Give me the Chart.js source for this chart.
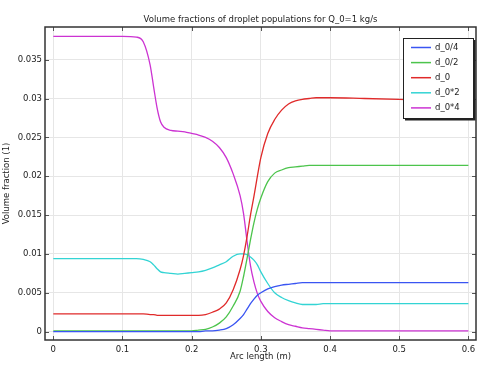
<!DOCTYPE html>
<html>
<head>
<meta charset="utf-8">
<script src="https://cdn.jsdelivr.net/npm/chart.js@4"></script>
<style>
  html, body { margin: 0; padding: 0; background: #fff; }
  #wrap { width: 482px; height: 366px; }
</style>
</head>
<body>
<div id="wrap"><canvas id="chart" width="482" height="366"></canvas></div>
<script>
// arc length samples (m)
const arcLength = [0, 0.05, 0.1, 0.12, 0.13, 0.14, 0.145, 0.15, 0.155, 0.16, 0.17, 0.18, 0.19, 0.2,
  0.21, 0.22, 0.23, 0.24, 0.25, 0.26, 0.27, 0.275, 0.28, 0.285, 0.29, 0.295, 0.3, 0.31, 0.32, 0.33,
  0.34, 0.35, 0.36, 0.37, 0.38, 0.39, 0.4, 0.45, 0.5, 0.55, 0.6];

const dQuarter = [0, 0, 0, 0, 0, 0, 0, 0, 0, 0, 0, 0, 0, 0,
  0, 0.0001, 0.0001, 0.0002, 0.0004, 0.0009, 0.0017, 0.0022, 0.0029, 0.0036, 0.0042, 0.0047, 0.0050, 0.0055, 0.0058, 0.0060,
  0.0061, 0.0062, 0.0063, 0.0063, 0.0063, 0.0063, 0.0063, 0.0063, 0.0063, 0.0063, 0.0063];

const dHalf = [0.0001, 0.0001, 0.0001, 0.0001, 0.0001, 0.0001, 0.0001, 0.0001, 0.0001, 0.0001, 0.0001, 0.0001, 0.0001, 0.0001,
  0.0002, 0.0003, 0.0006, 0.0011, 0.0019, 0.0033, 0.0052, 0.0071, 0.0094, 0.0118, 0.0140, 0.0158, 0.0172, 0.0193, 0.0204, 0.0208,
  0.0211, 0.0212, 0.0213, 0.0214, 0.0214, 0.0214, 0.0214, 0.0214, 0.0214, 0.0214, 0.0214];

const dOne = [0.0023, 0.0023, 0.0023, 0.0023, 0.0023, 0.0022, 0.0022, 0.0021, 0.0021, 0.0021, 0.0021, 0.0021, 0.0021, 0.0021,
  0.0021, 0.0022, 0.0025, 0.0029, 0.0037, 0.0054, 0.0080, 0.0098, 0.0122, 0.0150, 0.0174, 0.0200, 0.0224, 0.0255, 0.0273, 0.0285,
  0.0293, 0.0297, 0.0299, 0.0300, 0.0301, 0.0301, 0.0301, 0.0300, 0.0299, 0.0298, 0.0298];

const dDouble = [0.0094, 0.0094, 0.0094, 0.0094, 0.0093, 0.0090, 0.0086, 0.0081, 0.0077, 0.0076, 0.0075, 0.0074, 0.0075, 0.0076,
  0.0077, 0.0079, 0.0082, 0.0086, 0.0090, 0.0097, 0.0100, 0.0100, 0.0099, 0.0096, 0.0092, 0.0086, 0.0077, 0.0062, 0.0050, 0.0044,
  0.0040, 0.0037, 0.0035, 0.0035, 0.0035, 0.0036, 0.0036, 0.0036, 0.0036, 0.0036, 0.0036];

const dQuad = [0.038, 0.038, 0.038, 0.0379, 0.0373, 0.0343, 0.0315, 0.0288, 0.0270, 0.0263, 0.0259, 0.0258, 0.0257, 0.0255,
  0.0253, 0.0250, 0.0245, 0.0237, 0.0224, 0.0203, 0.0175, 0.0152, 0.0117, 0.0085, 0.0064, 0.0049, 0.0039, 0.0026, 0.0018, 0.0013,
  0.0009, 0.0007, 0.0005, 0.0004, 0.0003, 0.0002, 0.0001, 0.0001, 0.0001, 0.0001, 0.0001];

const seriesNames = ['d_0/4', 'd_0/2', 'd_0', 'd_0*2', 'd_0*4'];
const seriesColors = ['#3a55f2', '#4cc44c', '#e02a2a', '#33d4d4', '#cc33d2'];

const xTicks = [0, 0.1, 0.2, 0.3, 0.4, 0.5, 0.6];
const yTicks = [0, 0.005, 0.01, 0.015, 0.02, 0.025, 0.03, 0.035];

const FONT = "'DejaVu Sans', sans-serif";

const toPoints = (ys) => ys.map((y, i) => ({ x: arcLength[i], y }));

// frame + inner ticks on all four sides
const framePlugin = {
  id: 'frame',
  afterDatasetsDraw(chart) {
    const { ctx, chartArea: a, scales } = chart;
    ctx.save();
    ctx.strokeStyle = '#555';
    ctx.lineWidth = 1;
    ctx.beginPath();
    xTicks.forEach(v => {
      const px = Math.round(scales.x.getPixelForValue(v)) + 0.5;
      ctx.moveTo(px, a.top); ctx.lineTo(px, a.top + 4);
      ctx.moveTo(px, a.bottom); ctx.lineTo(px, a.bottom - 4);
    });
    yTicks.forEach(v => {
      const py = Math.round(scales.y.getPixelForValue(v)) + 0.5;
      ctx.moveTo(a.right, py); ctx.lineTo(a.right - 4, py);
      ctx.moveTo(a.left, py); ctx.lineTo(a.left + 4, py);
    });
    ctx.stroke();
    ctx.strokeStyle = '#333';
    ctx.lineWidth = 1.5;
    ctx.strokeRect(a.left, a.top, a.right - a.left, a.bottom - a.top);
    ctx.restore();
  }
};

// legend box in upper right corner
const legendPlugin = {
  id: 'boxLegend',
  afterDraw(chart) {
    const { ctx } = chart;
    const x0 = 403, y0 = 38, w = 70, h = 80;
    ctx.save();
    ctx.fillStyle = '#fff';
    ctx.fillRect(x0, y0, w, h);
    ctx.strokeStyle = '#222';
    ctx.lineWidth = 1;
    ctx.strokeRect(x0 + 0.5, y0 + 0.5, w, h);
    ctx.lineWidth = 2;
    ctx.beginPath();
    ctx.moveTo(x0 + w + 1.5, y0 + 2); ctx.lineTo(x0 + w + 1.5, y0 + h + 1.5); ctx.lineTo(x0 + 2, y0 + h + 1.5);
    ctx.stroke();
    ctx.font = '8.5px ' + FONT;
    ctx.textBaseline = 'middle';
    chart.data.datasets.forEach((ds, i) => {
      const y = y0 + 9.5 + i * 15.1;
      ctx.strokeStyle = ds.borderColor;
      ctx.lineWidth = 1.5;
      ctx.beginPath();
      ctx.moveTo(x0 + 8, y); ctx.lineTo(x0 + 28, y);
      ctx.stroke();
      ctx.fillStyle = '#222';
      ctx.fillText(ds.label, x0 + 32, y);
    });
    ctx.restore();
  }
};

new Chart(document.getElementById('chart'), {
  type: 'line',
  data: {
    datasets: [dQuarter, dHalf, dOne, dDouble, dQuad].map((ys, i) => ({
      label: seriesNames[i],
      data: toPoints(ys),
      borderColor: seriesColors[i],
      borderWidth: 1.3,
      pointRadius: 0,
      cubicInterpolationMode: 'monotone',
      fill: false
    }))
  },
  options: {
    responsive: false,
    animation: false,
    layout: { padding: { left: 0, right: 6, top: 0, bottom: 0 } },
    plugins: {
      legend: { display: false },
      tooltip: { enabled: false },
      title: {
        display: true,
        fullSize: false,
        text: 'Volume fractions of droplet populations for Q_0=1 kg/s',
        color: '#222',
        font: { family: FONT, size: 8.5, weight: 'normal' },
        padding: { top: 15, bottom: 1.8 }
      }
    },
    scales: {
      x: {
        type: 'linear',
        min: -0.012,
        max: 0.611,
        afterBuildTicks: (s) => { s.ticks = xTicks.map(v => ({ value: v })); },
        afterFit: (s) => { s.height = 26; },
        grid: { color: '#e6e6e6', lineWidth: 1, drawTicks: false },
        border: { display: false },
        ticks: { color: '#222', font: { family: FONT, size: 8.5 }, padding: 5, maxRotation: 0,
          callback: (v) => String(v) },
        title: { display: true, text: 'Arc length (m)', color: '#222', font: { family: FONT, size: 8.5 }, padding: { top: 0, bottom: 4 } }
      },
      y: {
        type: 'linear',
        min: -0.00107,
        max: 0.0392,
        afterBuildTicks: (s) => { s.ticks = yTicks.map(v => ({ value: v })); },
        afterFit: (s) => { s.width = 45; },
        grid: { color: '#e6e6e6', lineWidth: 1, drawTicks: false },
        border: { display: false },
        ticks: { color: '#222', font: { family: FONT, size: 8.5 }, padding: 3,
          callback: (v) => String(v) },
        title: { display: true, text: 'Volume fraction (1)', color: '#222', font: { family: FONT, size: 8.5 }, padding: { top: 2, bottom: 0 } }
      }
    }
  },
  plugins: [framePlugin, legendPlugin]
});
</script>
</body>
</html>
